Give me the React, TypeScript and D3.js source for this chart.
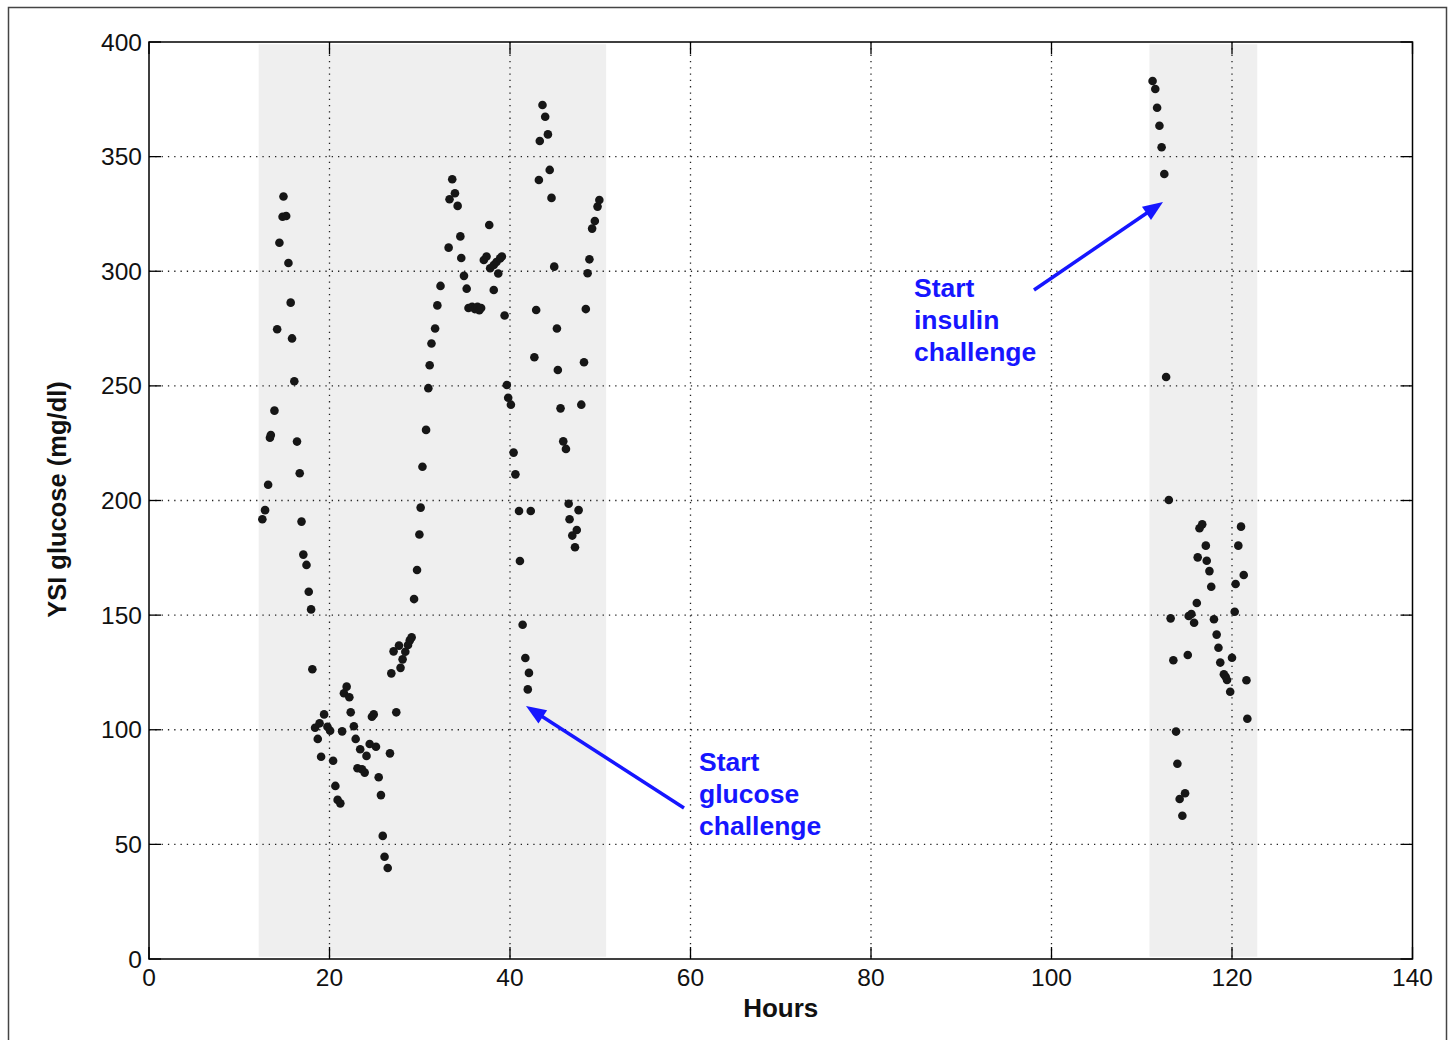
import React from "react";
import * as d3 from "d3";

const hoursA = [12.56,12.86,13.2,13.4,13.5,13.9,14.2,14.45,14.8,14.9,15.2,15.45,15.7,15.85,16.1,16.4,16.7,16.9,17.1,17.45,17.7,17.96,18.1,18.4,18.7,18.9,19.07,19.4,19.77,20.07,20.4,20.65,20.9,21.2,21.4,21.6,21.9,22.2,22.35,22.7,22.9,23.1,23.4,23.6,23.9,24.1,24.45,24.7,24.9,25.15,25.45,25.7,25.9,26.1,26.45,26.7,26.85,27.1,27.4,27.7,27.87,28.1,28.4,28.7,28.9,29.1,29.37,29.7,29.96,30.1,30.3,30.7,30.95,31.1,31.3,31.7,31.95,32.3,33.2,33.3,33.6,33.9,34.2,34.5,34.6,34.9,35.2,35.4,35.8,36.1,36.4,36.6,36.8,37.1,37.4,37.7,37.8,38.2,38.2,38.5,38.7,38.9,39.1,39.4,39.65,39.8,40.1,40.4,40.6,41.0,41.1,41.4,41.7,41.97,42.1,42.3,42.7,42.9,43.2,43.3,43.6,43.9,44.2,44.4,44.6,44.9,45.2,45.3,45.6,45.9,46.2,46.5,46.6,46.9,47.2,47.4,47.6,47.9,48.2,48.4,48.6,48.8,49.1,49.4,49.7,49.9];
const glucoseA = [191.8,195.8,206.9,227.4,228.6,239.2,274.7,312.4,323.8,332.6,324.1,303.6,286.3,270.7,252,225.7,211.9,190.8,176.4,171.9,160.2,152.5,126.4,100.9,96,102.8,88.2,106.7,101.3,99.6,86.5,75.5,69.4,67.9,99.3,115.9,118.8,114.2,107.6,101.5,96,83.2,91.5,82.8,81.3,88.6,93.8,105.7,106.7,92.6,79.3,71.5,53.7,44.6,39.7,89.7,124.6,134.2,107.6,136.7,127,130.7,134,137,139,140.3,157,169.7,185.2,196.9,214.7,230.8,249,259,268.5,275,285.1,293.6,310.3,331.4,340.1,334,328.5,315.2,305.8,298,292.4,284,284.5,283.5,284.5,283,284,304.9,306.4,320.2,301.3,302.7,291.8,304,299,305.6,306.4,280.7,250.4,244.8,241.8,220.9,211.4,195.4,173.6,145.8,131.3,117.6,124.8,195.4,262.5,283.1,339.8,356.8,372.5,367.4,359.7,344.2,332,302,275,256.9,240.2,225.8,222.5,198.6,191.8,184.7,179.6,187.1,195.8,241.8,260.3,283.5,299.1,305.2,318.6,321.9,328.2,331.1];

const hoursB = [111.2,111.5,111.7,111.96,112.2,112.5,112.7,113.0,113.2,113.5,113.8,113.95,114.2,114.5,114.8,115.1,115.2,115.5,115.8,116.1,116.2,116.4,116.7,117.1,117.2,117.5,117.7,118.0,118.3,118.5,118.7,119.1,119.3,119.45,119.8,120.0,120.3,120.4,120.7,121.0,121.3,121.6,121.7];
const glucoseB = [383,379.5,371.3,363.5,354.1,342.4,253.9,200.2,148.6,130.3,99.2,85.2,69.8,62.5,72.3,132.6,149.6,150.5,146.7,155.3,175.2,187.9,189.6,180.3,173.7,169.2,162.4,148.2,141.5,135.8,129.3,124.2,123.1,121.7,116.6,131.4,151.5,163.6,180.3,188.6,167.5,121.6,104.8];

const shadeStart = [12.15, 110.85];
const shadeEnd = [50.65, 122.8];

const xTicks = [0, 20, 40, 60, 80, 100, 120, 140];
const yTicks = [0, 50, 100, 150, 200, 250, 300, 350, 400];

const annoGlucose = ["Start", "glucose", "challenge"];
const annoInsulin = ["Start", "insulin", "challenge"];

const W = 1448, H = 1040;
const L = 149, R = 1412.5, T = 42, B = 959;

export default function App() {
  const x = d3.scaleLinear().domain([0, 140]).range([L, R]);
  const y = d3.scaleLinear().domain([0, 400]).range([B, T]);
  const pts = [
    ...hoursA.map((h, i) => [h, glucoseA[i]]),
    ...hoursB.map((h, i) => [h, glucoseB[i]]),
  ];
  const font = "'Liberation Sans', Arial, Helvetica, sans-serif";
  const blue = "#1616ff";
  const tick = 12;

  const arrow = (x1: number, y1: number, x2: number, y2: number) => {
    const ang = Math.atan2(y2 - y1, x2 - x1);
    const len = 20, hw = 8;
    const bx = x2 - len * Math.cos(ang), by = y2 - len * Math.sin(ang);
    const px = -Math.sin(ang) * hw, py = Math.cos(ang) * hw;
    return (
      <g>
        <line x1={x1} y1={y1} x2={bx + 4 * Math.cos(ang)} y2={by + 4 * Math.sin(ang)} stroke={blue} strokeWidth={3.5} />
        <path d={`M${x2},${y2}L${bx + px},${by + py}L${bx - px},${by - py}Z`} fill={blue} />
      </g>
    );
  };

  return (
    <svg width={W} height={H} style={{ position: "absolute", left: 0, top: 0, background: "#fff" }} fontFamily={font}>
      <rect x={0} y={0} width={W} height={H} fill="#fff" />
      <rect x={8.5} y={7.5} width={1438} height={1100} fill="none" stroke="#444" strokeWidth={1.5} />
      {shadeStart.map((s, i) => (
        <rect key={i} x={x(s)} y={y(399)} width={x(shadeEnd[i]) - x(s)} height={y(1) - y(399)} fill="#efefef" />
      ))}
      {xTicks.slice(1, -1).map((t) => (
        <line key={"gx" + t} x1={x(t)} x2={x(t)} y1={T} y2={B} stroke="#222" strokeWidth={1.3} strokeDasharray="1.3,5" />
      ))}
      {yTicks.slice(1, -1).map((t) => (
        <line key={"gy" + t} x1={L} x2={R} y1={y(t)} y2={y(t)} stroke="#222" strokeWidth={1.3} strokeDasharray="1.3,5" />
      ))}
      {xTicks.map((t) => (
        <g key={"tx" + t}>
          <line x1={x(t)} x2={x(t)} y1={B} y2={B - tick} stroke="#000" strokeWidth={1.3} />
          <line x1={x(t)} x2={x(t)} y1={T} y2={T + tick} stroke="#000" strokeWidth={1.3} />
          <text x={x(t)} y={986} textAnchor="middle" fontSize={24.5} fill="#111">{t}</text>
        </g>
      ))}
      {yTicks.map((t) => (
        <g key={"ty" + t}>
          <line x1={L} x2={L + tick} y1={y(t)} y2={y(t)} stroke="#000" strokeWidth={1.3} />
          <line x1={R} x2={R - tick} y1={y(t)} y2={y(t)} stroke="#000" strokeWidth={1.3} />
          <text x={142} y={y(t) + 8.5} textAnchor="end" fontSize={24.5} fill="#111">{t}</text>
        </g>
      ))}
      <rect x={L} y={T} width={R - L} height={B - T} fill="none" stroke="#000" strokeWidth={1.5} />
      {pts.map(([h, g], i) => (
        <circle key={i} cx={x(h)} cy={y(g)} r={4.3} fill="#161616" />
      ))}
      <text x={(L + R) / 2} y={1017} textAnchor="middle" fontSize={26} fontWeight="bold" fill="#111">Hours</text>
      <text transform={`translate(66,${(T + B) / 2 - 1}) rotate(-90)`} textAnchor="middle" fontSize={25.5} fontWeight="bold" fill="#111">YSI glucose (mg/dl)</text>
      {arrow(684, 808, 526, 706)}
      {arrow(1034, 290, 1163, 202)}
      {annoGlucose.map((s, i) => (
        <text key={"ag" + i} x={699} y={771 + 32 * i} fontSize={26.5} fontWeight="bold" fill={blue}>{s}</text>
      ))}
      {annoInsulin.map((s, i) => (
        <text key={"ai" + i} x={914} y={297 + 32 * i} fontSize={26.5} fontWeight="bold" fill={blue}>{s}</text>
      ))}
    </svg>
  );
}
